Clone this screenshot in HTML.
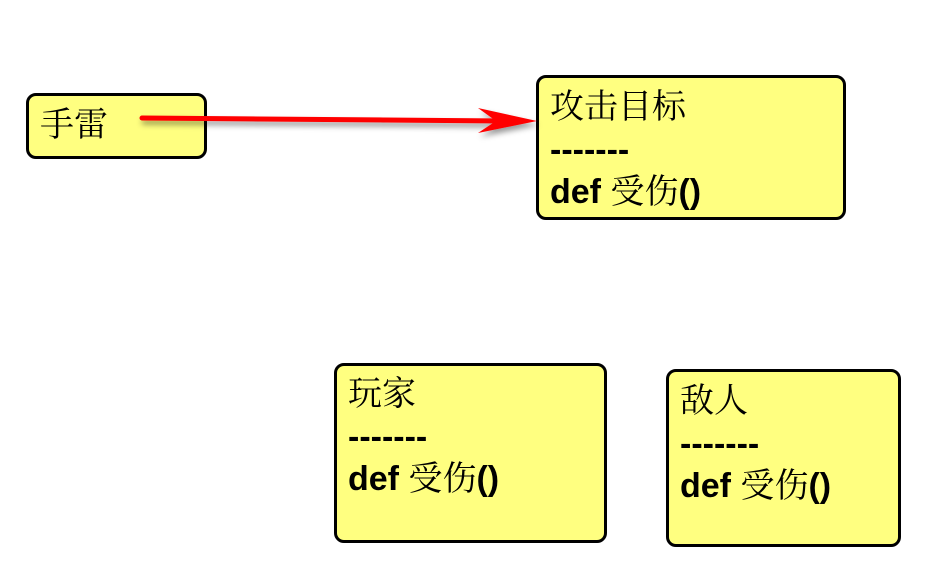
<!DOCTYPE html>
<html><head><meta charset="utf-8"><style>
body{margin:0;width:926px;height:584px;background:#fff;position:relative;overflow:hidden;font-family:"Liberation Sans","Noto Sans CJK SC",sans-serif;}
.b{position:absolute;background:#ffff80;border:3px solid #000;border-radius:10px;box-sizing:border-box;}
.t{position:absolute;left:11px;font-size:34px;line-height:34px;white-space:nowrap;color:#000;font-family:"Liberation Serif","Noto Serif CJK SC",serif;}
.d{font-weight:bold;font-family:"Liberation Sans","Noto Sans CJK SC",sans-serif;}
.d span{font-weight:normal;font-family:"Noto Serif CJK SC",serif;}
</style></head><body>
<div class="b" style="left:26px;top:93px;width:181px;height:66px"><div class="t" style="top:13px">手雷</div></div>
<div class="b" style="left:536px;top:75px;width:310px;height:145px">
<div class="t" style="top:13px">攻击目标</div>
<div class="t d" style="top:55px">-------</div>
<div class="t d" style="top:94px">def <span>受伤</span>()</div></div>
<div class="b" style="left:334px;top:363px;width:273px;height:180px">
<div class="t" style="top:12px">玩家</div>
<div class="t d" style="top:54px">-------</div>
<div class="t d" style="top:93px">def <span>受伤</span>()</div></div>
<div class="b" style="left:666px;top:369px;width:235px;height:178px">
<div class="t" style="top:13px">敌人</div>
<div class="t d" style="top:55px">-------</div>
<div class="t d" style="top:94px">def <span>受伤</span>()</div></div>
<svg width="926" height="584" style="position:absolute;left:0;top:0">
<defs><filter id="s" x="-10%" y="-100%" width="120%" height="300%"><feDropShadow dx="2" dy="4" stdDeviation="3" flood-color="#000" flood-opacity="0.4"/></filter></defs>
<g filter="url(#s)">
<line x1="142" y1="118" x2="505" y2="121" stroke="#ff0000" stroke-width="5" stroke-linecap="round"/>
<path d="M537,121 L478,108 L496,121 L478,133 Z" fill="#ff0000"/>
</g>
</svg>
</body></html>
